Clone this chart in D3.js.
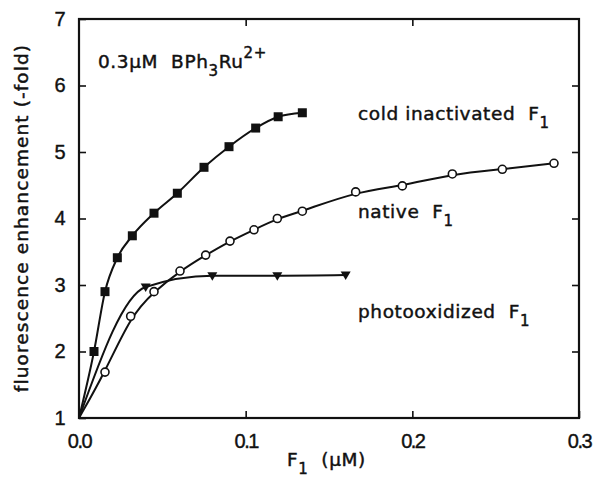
<!DOCTYPE html>
<html>
<head>
<meta charset="utf-8">
<script src="https://cdn.jsdelivr.net/npm/d3@7/dist/d3.min.js"></script>
<style>
  body { margin: 0; background: #fff; }
  svg { font-family: "DejaVu Sans", "Liberation Sans", sans-serif; }
  .lbl { font-size: 18.5px; letter-spacing: 0.6px; fill: #111; stroke: #111; stroke-width: 0.45px; }
  .tick text { font-size: 20px; fill: #111; letter-spacing: -1.5px; stroke: #111; stroke-width: 0.4px; }
</style>
</head>
<body>
<svg width="593" height="493"></svg>
<script>
// F1 concentration (uM) vs fluorescence enhancement
const coldX = [0.009, 0.0156, 0.023, 0.032, 0.045, 0.059, 0.075, 0.090, 0.106, 0.1195, 0.134];
const coldY = [2.00, 2.90, 3.41, 3.74, 4.08, 4.38, 4.77, 5.08, 5.36, 5.53, 5.59];

const nativeX = [0.0156, 0.031, 0.045, 0.0606, 0.076, 0.0906, 0.105, 0.119, 0.134, 0.166, 0.194, 0.224, 0.254, 0.285];
const nativeY = [1.69, 2.53, 2.90, 3.21, 3.45, 3.66, 3.83, 4.00, 4.11, 4.40, 4.49, 4.67, 4.74, 4.83];

const photoX = [0.040, 0.080, 0.119, 0.160];
const photoY = [2.97, 3.14, 3.14, 3.15];

const origin = [0, 1];
const xTicks = [0, 0.1, 0.2, 0.3];
const yTicks = [1, 2, 3, 4, 5, 6, 7];

const svg = d3.select('svg');
const mLeft = 79, mTop = 19, mRight = 579, mBottom = 418;
const width = mRight - mLeft, height = mBottom - mTop;

const chart = svg.append('g').attr('transform', `translate(${mLeft}, ${mTop})`);

const x = d3.scaleLinear().domain([0, 0.3]).range([0, width]);
const y = d3.scaleLinear().domain([1, 7]).range([height, 0]);

// bottom axis, inward ticks
const xAxis = chart.append('g')
  .attr('transform', `translate(0, ${height})`)
  .call(d3.axisBottom(x).tickValues(xTicks).tickSize(-7).tickPadding(16).tickFormat(d3.format('.1f')));
xAxis.selectAll('.tick text').attr('dy', '0.71em');

chart.append('g')
  .call(d3.axisTop(x).tickValues([0.1, 0.2]).tickSize(-7).tickFormat(''));

const yAxis = chart.append('g')
  .call(d3.axisLeft(y).tickValues(yTicks).tickSize(-7).tickPadding(15).tickFormat(d3.format('d')));

chart.append('g')
  .attr('transform', `translate(${width}, 0)`)
  .call(d3.axisRight(y).tickValues([2, 3, 4, 5, 6]).tickSize(-7).tickFormat(''));

chart.selectAll('.domain').remove();
chart.selectAll('.tick line').attr('stroke', '#111').attr('stroke-width', 1.6);

chart.append('rect')
  .attr('width', width).attr('height', height)
  .attr('fill', 'none').attr('stroke', '#111').attr('stroke-width', 2.2);

const lineMono = d3.line()
  .x(d => x(d[0])).y(d => y(d[1]))
  .curve(d3.curveMonotoneX);
const lineSmooth = d3.line()
  .x(d => x(d[0])).y(d => y(d[1]))
  .curve(d3.curveBasis);

function series(xs, ys) { return xs.map((v, i) => [v, ys[i]]); }

const cold = series(coldX, coldY);
const native = series(nativeX, nativeY);
const photo = series(photoX, photoY);

[[cold, lineMono], [native, lineSmooth], [photo, lineMono]].forEach(([s, gen]) => {
  chart.append('path')
    .datum([origin].concat(s))
    .attr('d', gen)
    .attr('fill', 'none')
    .attr('stroke', '#111')
    .attr('stroke-width', 2);
});

// markers
chart.selectAll('.sq').data(cold).enter().append('rect')
  .attr('x', d => x(d[0]) - 4.5).attr('y', d => y(d[1]) - 4.5)
  .attr('width', 9).attr('height', 9).attr('fill', '#111');

chart.selectAll('.ci').data(native).enter().append('circle')
  .attr('cx', d => x(d[0])).attr('cy', d => y(d[1])).attr('r', 4)
  .attr('fill', '#fff').attr('stroke', '#111').attr('stroke-width', 1.6);

chart.selectAll('.tr').data(photo).enter().append('path')
  .attr('transform', d => `translate(${x(d[0])}, ${y(d[1])})`)
  .attr('d', 'M-5,-3.5 L5,-3.5 L0,5 Z')
  .attr('fill', '#111');

// labels
function addLabel(px, py, parts) {
  const t = svg.append('text').attr('class', 'lbl').attr('x', px).attr('y', py)
    .attr('xml:space', 'preserve');
  parts.forEach(p => {
    const ts = t.append('tspan').text(p[0]);
    if (p[1]) ts.attr('dy', p[1]);
    if (p[2]) ts.style('font-size', p[2]);
  });
  return t;
}

addLabel(98, 68, [['0.3μM  BPh'], ['3', 8, '15px'], ['Ru', -8], ['2+', -10, '15px']]);
addLabel(358, 120, [['cold inactivated  F'], ['1', 8, '15px']]);
addLabel(358, 218, [['native  F'], ['1', 8, '15px']]);
addLabel(358, 318, [['photooxidized  F'], ['1', 8, '15px']]);
addLabel(287, 466, [['F'], ['1', 8, '15px'], ['  (μM)', -8]]);

svg.append('text')
  .attr('class', 'lbl')
  .attr('transform', 'rotate(-90)')
  .attr('x', -218).attr('y', 28)
  .attr('text-anchor', 'middle')
  .style('letter-spacing', '1.1px')
  .text('fluorescence enhancement (-fold)');
</script>
</body>
</html>
